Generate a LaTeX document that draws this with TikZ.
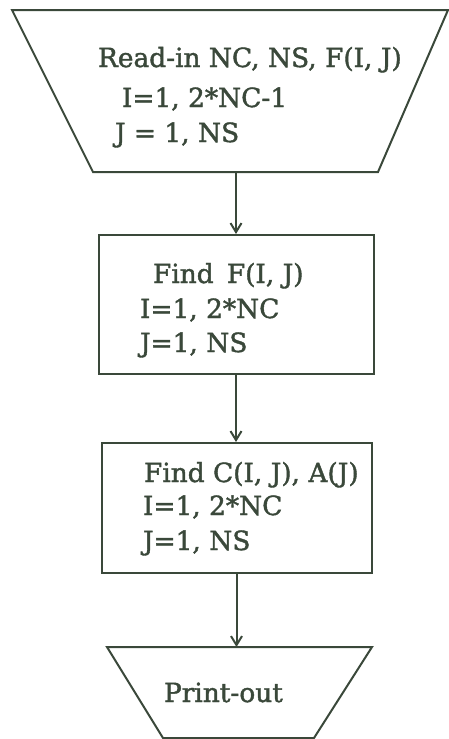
\documentclass[tikz,border=0pt]{standalone}
\usepackage{fontspec}
\setmainfont{DejaVu Serif}[FakeBold=1.5]
\usetikzlibrary{arrows.meta}
\definecolor{ink}{RGB}{58,72,58}

\begin{document}
\begin{tikzpicture}[x=0.5pt,y=-0.5pt,color=ink,line width=1pt,
 >={Straight Barb[length=4.5pt,width=5.5pt]},
 box/.style={draw,rectangle,inner sep=0pt},
 io/.style={rectangle,inner sep=0pt,outer sep=0pt},
 txt/.style={font=\fontsize{13.2}{16}\selectfont,anchor=base west,inner sep=0pt}]
\useasboundingbox (0,0) rectangle (449,739);
\node[io,minimum width=218pt,minimum height=81pt] (in) at (230,91) {};
\draw (in.north west) -- (in.north east) -- ([xshift=-35pt]in.south east) -- ([xshift=40.5pt]in.south west) -- cycle;
\node[box,minimum width=137.5pt,minimum height=69.5pt] (find) at (236,304.5) {};
\node[box,minimum width=135pt,minimum height=65pt] (calc) at (236.5,508) {};
\node[io,minimum width=132.5pt,minimum height=45.5pt] (out) at (239.5,692.5) {};
\draw (out.north west) -- (out.north east) -- ([xshift=-29pt]out.south east) -- ([xshift=28pt]out.south west) -- cycle;
\node[txt] (in1) at (97,67) {Read-in NC, NS, F(I, J)};
\node[txt] (in2) at (121,107) {I=1, 2*NC-1};
\node[txt] (in3) at (114,142) {J = 1, NS};
\node[txt] (f1) at (152,283) {Find\enspace F(I, J)};
\node[txt] (f2) at (139,318) {I=1, 2*NC};
\node[txt] (f3) at (139,352) {J=1, NS};
\node[txt] (c1) at (143,482) {Find C(I, J), A(J)};
\node[txt] (c2) at (142,515) {I=1, 2*NC};
\node[txt] (c3) at (142,550) {J=1, NS};
\node[txt] (o1) at (163,702) {Print-out};
\draw[->] (find.north |- in.south) -- (find.north);
\draw[->] (find.south) -- (find.south |- calc.north);
\draw[->] (calc.south) -- (calc.south |- out.north);
\end{tikzpicture}
\end{document}
